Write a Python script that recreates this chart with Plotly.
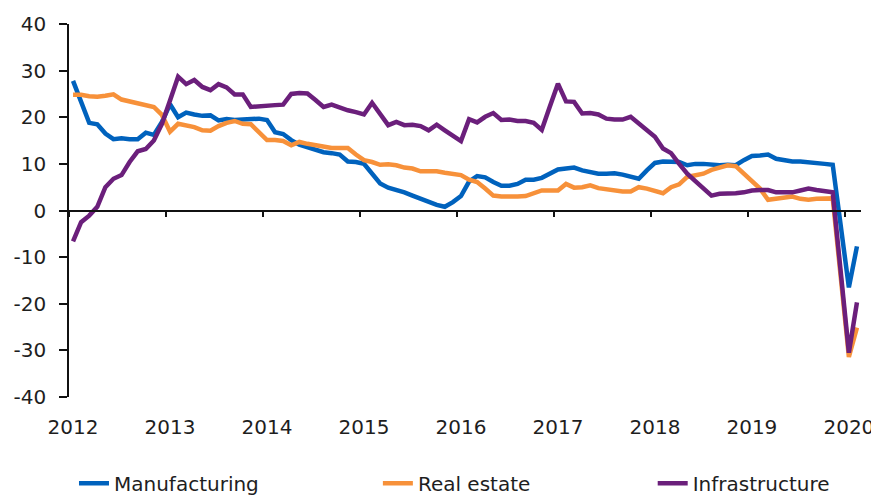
import plotly.graph_objects as go

# ---------------- data ----------------
years = ["2012", "2013", "2014", "2015", "2016", "2017", "2018", "2019", "2020"]
months = [f"{y}-{m:02d}" for y in range(2012, 2021) for m in range(1, 13)][:98]
y_ticks = [-40, -30, -20, -10, 0, 10, 20, 30, 40]
y_labels = ["-40", "-30", "-20", "-10", "0", "10", "20", "30", "40"]

manufacturing = [
    27.8, 23.3, 18.8, 18.5, 16.5, 15.3, 15.5, 15.3, 15.3, 16.7, 16.2, 19.0,
    22.8, 20.0, 21.0, 20.6, 20.3, 20.4, 19.3, 19.6, 19.4, 19.5, 19.7, 19.7,
    19.4, 16.8, 16.4, 15.1, 14.1, 13.6, 13.0, 12.5, 12.3, 12.0, 10.5, 10.4,
    10.0, 7.9, 5.8, 4.9, 4.5, 3.9, 3.2, 2.5, 1.8, 1.2, 0.8, 1.8,
    3.1, 6.2, 7.4, 7.1, 6.1, 5.3, 5.3, 5.7, 6.6, 6.6, 7.0, 8.0,
    8.8, 9.0, 9.2, 8.6, 8.2, 7.9, 7.9, 8.0, 7.7, 7.3, 6.8, 8.6,
    10.2, 10.5, 10.4, 10.4, 9.7, 10.0, 10.0, 9.8, 9.7, 9.8, 9.7, 10.8,
    11.7, 11.8, 12.0, 11.1, 10.8, 10.5, 10.5, 10.4, 10.2, 10.0, 9.8, None,
    -16.5, -7.7,
]

real_estate = [
    24.8, 24.8, 24.5, 24.4, 24.6, 24.9, 23.8, 23.4, 23.1, 22.8, 22.2, 20.5,
    16.9, 18.6, 18.3, 17.9, 17.2, 17.1, 18.1, 18.8, 19.2, 18.6, 18.5, 16.8,
    15.1, 15.1, 14.9, 14.0, 14.7, 14.3, 14.0, 13.6, 13.4, 13.4, 13.4, 12.0,
    10.8, 10.4, 9.8, 9.9, 9.7, 9.2, 9.0, 8.4, 8.4, 8.4, 8.1, 7.9,
    7.6, 6.6, 6.1, 4.7, 3.2, 3.0, 2.9, 3.0, 3.1, 3.6, 4.3, 4.3,
    4.3, 5.7, 4.9, 5.0, 5.4, 4.8, 4.5, 4.3, 4.1, 4.1, 5.0, 4.7,
    4.3, 3.7, 5.0, 5.6, 7.2, 7.5, 7.9, 8.7, 9.3, 9.7, 9.5, 7.9,
    6.1, 4.7, 2.3, 2.5, 2.9, 3.0, 2.5, 2.3, 2.5, 2.5, 2.6, None,
    -31.4, -25.1,
]

infrastructure = [
    -6.6, -2.5, -1.1, 0.8, 5.0, 6.8, 7.6, 10.4, 12.7, 13.2, 15.0, 18.6,
    23.6, 28.7, 27.1, 28.0, 26.5, 25.8, 27.1, 26.4, 24.9, 24.9, 22.2, 22.4,
    22.4, 22.6, 22.7, 25.0, 25.2, 25.1, 23.7, 22.2, 22.7, 22.0, 21.5, 21.1,
    20.6, 23.1, 20.6, 18.3, 19.0, 18.3, 18.4, 18.1, 17.2, 18.4, 17.2, 16.1,
    14.9, 19.6, 18.9, 20.1, 20.9, 19.4, 19.5, 19.2, 19.2, 18.8, 17.3, 22.3,
    27.2, 23.4, 23.3, 20.8, 20.9, 20.6, 19.7, 19.5, 19.5, 20.1, 18.6, 17.2,
    15.8, 13.3, 12.3, 10.0, 7.9, 6.3, 4.7, 3.2, 3.6, 3.6, 3.7, 3.9,
    4.3, 4.4, 4.4, 3.9, 3.8, 3.9, 4.3, 4.7, 4.4, 4.1, 3.9, None,
    -30.5, -19.7,
]

series_names = ["Manufacturing", "Real estate", "Infrastructure"]
series_values = [manufacturing, real_estate, infrastructure]
series_colors = ["#0062BD", "#F7913A", "#6B1F7B"]
legend_ids = ["legend", "legend2", "legend3"]

# ---------------- figure ----------------
x = list(range(len(months)))
label_vals = [months.index(f"{y}-01") for y in years]
tick_vals = [v - 0.5 for v in label_vals]

FONT = "DejaVu Sans"
TXT = "#1e1e1e"

fig = go.Figure()
for name, vals, col, lg in zip(series_names, series_values, series_colors, legend_ids):
    fig.add_trace(go.Scatter(
        x=x, y=vals, mode="lines", name=name,
        line=dict(color=col, width=4.5),
        connectgaps=True, legend=lg,
    ))

# invisible trace on the second (zero-line) x axis so it is drawn
fig.add_trace(go.Scatter(x=[x[0]], y=[None], xaxis="x2", showlegend=False,
                         hoverinfo="skip"))

xr = [-0.5, len(months) - 0.5]

legend_common = dict(orientation="h", yanchor="middle", xanchor="left",
                     y=-0.231, font=dict(family=FONT, size=20, color=TXT),
                     bgcolor="rgba(0,0,0,0)", itemwidth=30)

# page body has an 8px margin, so the figure is sized 8px smaller
fig.update_layout(
    width=871, height=488, autosize=False,
    margin=dict(l=61, r=18, t=16, b=99, autoexpand=False),
    paper_bgcolor="white", plot_bgcolor="white",
    font=dict(family=FONT, size=20, color=TXT),
    xaxis=dict(
        range=xr, tickmode="array", tickvals=label_vals, ticktext=years,
        showline=False, showgrid=False, zeroline=False, ticks="",
        ticklabelstandoff=16, automargin=False,
        tickfont=dict(family=FONT, size=20, color=TXT),
    ),
    xaxis2=dict(
        range=xr, overlaying="x", anchor="free", position=0.5, side="bottom",
        tickmode="array", tickvals=tick_vals, showticklabels=False,
        showline=True, linecolor="#111", linewidth=1.5,
        ticks="outside", ticklen=6, tickwidth=1.5, tickcolor="#111",
        showgrid=False, zeroline=False,
    ),
    yaxis=dict(
        range=[-40, 40], tickmode="array", tickvals=y_ticks, ticktext=y_labels,
        showgrid=False, zeroline=False, automargin=False,
        showline=True, linecolor="#111", linewidth=1.5,
        ticks="outside", ticklen=8, tickwidth=1.5, tickcolor="#111",
        ticklabelstandoff=9,
        tickfont=dict(family=FONT, size=20, color=TXT),
    ),
    legend=dict(legend_common, x=0.0063),
    legend2=dict(legend_common, x=0.390),
    legend3=dict(legend_common, x=0.737),
    showlegend=True,
)

fig.write_html("out.html")
